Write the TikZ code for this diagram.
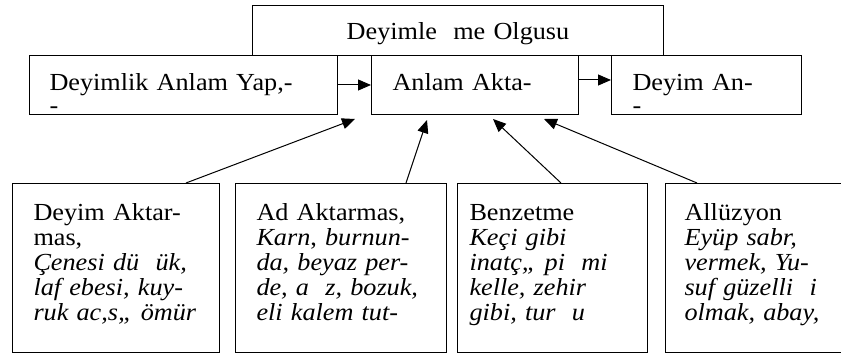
\documentclass[tikz,border=0pt]{standalone}
\usepackage{fontspec}
\setmainfont{Liberation Serif}[FakeStretch=1.07]
\usetikzlibrary{arrows.meta}

\begin{document}
\begin{tikzpicture}[x=1pt,y=-1pt,
	box/.style={draw, line width=1pt, anchor=north west, inner ysep=0pt, align=left, font=\fontsize{24.5}{25}\selectfont},
	arr/.style={line width=1pt, -{Triangle[length=13pt,width=11pt]}}]
	\useasboundingbox (0,0) rectangle (841,358);
	
	\node[box, align=center, text width=391pt, inner xsep=10pt, text height=34pt, text depth=16pt] (olgu) at (252,5) {Deyimle\ \ me Olgusu};
	
	\node[box, text width=268pt, inner xsep=20pt, text height=35pt, text depth=24pt] (yapi) at (29,55) {Deyimlik Anlam Yap,-\\[-2pt]-};
	\node[box, text width=165pt, inner xsep=21pt, text height=35pt, text depth=24pt] (akt) at (371,55) {Anlam Akta-};
	\node[box, text width=148pt, inner xsep=21pt, text height=35pt, text depth=24pt] (anl) at (611,55) {Deyim An-\\[-2pt]-};
	
	\draw[arr] (yapi.east) -- (akt.west);
	\draw[arr] ([yshift=5pt]akt.east) -- ([yshift=5pt]anl.west);
	
	\node[box, text width=165pt, inner xsep=21pt, text height=37pt, text depth=132pt] (d1) at (12,183) {Deyim Aktar-\\mas,\\\textit{Çenesi dü\ \ ük,}\\\textit{laf ebesi, kuy-}\\\textit{ruk ac,s,, ömür}};
	\node[box, text width=169pt, inner xsep=21pt, text height=37pt, text depth=132pt] (d2) at (235,183) {Ad Aktarmas,\\\textit{Karn}, \textit{burnun-}\\\textit{da, beyaz per-}\\\textit{de, a\ \ z, bozuk,}\\\textit{eli kalem tut-}};
	\node[box, text width=166pt, inner xsep=12pt, text height=37pt, text depth=132pt] (d3) at (457,183) {Benzetme\\\textit{Keçi gibi}\\\textit{inatç,, pi\ \ mi}\\\textit{kelle, zehir}\\\textit{gibi, tur\ \ u}};
	\node[box, text width=140pt, inner xsep=19pt, text height=37pt, text depth=132pt] (d4) at (665,183) {Allüzyon\\\textit{Eyüp sabr,}\\\textit{vermek, Yu-}\\\textit{suf güzelli\ \ i}\\\textit{olmak, abay,}};
	
	\coordinate (t1) at (355,119);
	\coordinate (t2) at (427,120);
	\coordinate (t3) at (493,119);
	\coordinate (t4) at (544,119);
	
	\draw[arr] ([xshift=174pt]d1.north west) -- (t1);
	\draw[arr] ([xshift=171pt]d2.north west) -- (t2);
	\draw[arr] ([xshift=104pt]d3.north west) -- (t3);
	\draw[arr] ([xshift=32pt]d4.north west) -- (t4);
\end{tikzpicture}
\end{document}
